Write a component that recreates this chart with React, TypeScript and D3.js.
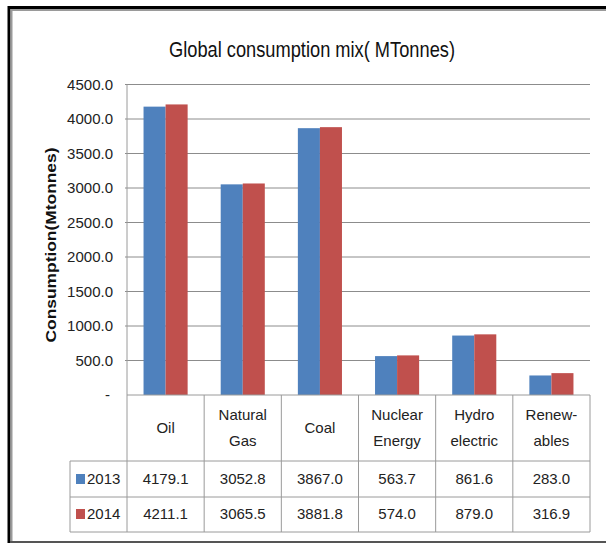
import React from 'react';
import * as d3 from 'd3';

const categories = ['Oil', 'Natural Gas', 'Coal', 'Nuclear Energy', 'Hydro electric', 'Renewables'];
const categoryLines = [['Oil'], ['Natural', 'Gas'], ['Coal'], ['Nuclear', 'Energy'], ['Hydro', 'electric'], ['Renew-', 'ables']];
const years = ['2013', '2014'];
const values2013 = [4179.1, 3052.8, 3867.0, 563.7, 861.6, 283.0];
const values2014 = [4211.1, 3065.5, 3881.8, 574.0, 879.0, 316.9];
const yTicks = [0, 500, 1000, 1500, 2000, 2500, 3000, 3500, 4000, 4500];

const W = 606;
const H = 543;
const colors = ['#4F81BD', '#C0504D'];
const font = '"Liberation Sans", Arial, sans-serif';

export default function App() {
  const series = [values2013, values2014];

  const left = 127, right = 590, top = 84.5, bottom = 395;
  const x = d3.scaleBand().domain(categories).range([left, right]);
  const xi = d3.scaleBand().domain(years).range([0, x.bandwidth()]).paddingOuter(0.75);
  const y = d3.scaleLinear().domain([0, 4500]).range([bottom, top]);

  // table rows
  const rowCat = 461, row1 = 497, row2 = 532, legendLeft = 70;
  const fmt = d3.format('.1f');

  return (
    <svg width={W} height={H} style={{ position: 'absolute', left: 0, top: 0, background: '#fff' }}>
      {/* frame */}
      <line x1={8} x2={W} y1={7.5} y2={7.5} stroke="#000" strokeWidth={3} />
      <line x1={11} x2={W} y1={10} y2={10} stroke="#9a9a9a" strokeWidth={2} />
      <line x1={9} x2={9} y1={6} y2={H} stroke="#000" strokeWidth={3} />
      <line x1={11.5} x2={11.5} y1={9} y2={H} stroke="#9a9a9a" strokeWidth={2} />
      <line x1={10} x2={W} y1={542} y2={542} stroke="#555" strokeWidth={2} />

      <text x={312} y={57} textAnchor="middle" fontFamily={font} fontSize={22} fill="#111"
        textLength={286} lengthAdjust="spacingAndGlyphs">Global consumption mix( MTonnes)</text>

      <text transform="translate(56,245) rotate(-90)" textAnchor="middle" fontFamily={font} fontSize={15}
        fontWeight="bold" fill="#111" textLength={195} lengthAdjust="spacingAndGlyphs">Consumption(Mtonnes)</text>

      {/* gridlines */}
      {yTicks.filter(t => t > 0).map(t => (
        <line key={t} x1={left - 2} x2={right} y1={y(t)} y2={y(t)} stroke="#8c8c8c" strokeWidth={1} />
      ))}
      {yTicks.map(t => (
        <text key={t} x={t === 0 ? 110 : 113} y={y(t)} dy="0.35em" textAnchor="end" fontFamily={font}
          fontSize={15} fill="#222">{t === 0 ? '-' : fmt(t)}</text>
      ))}

      {/* bars */}
      {categories.map((c, i) => (
        <g key={c} transform={`translate(${x(c)},0)`}>
          {series.map((s, j) => (
            <rect key={j} x={xi(years[j])} y={y(s[i])} width={xi.bandwidth()} height={bottom - y(s[i])}
              fill={colors[j]} />
          ))}
        </g>
      ))}

      {/* axis line */}
      <line x1={left} x2={left} y1={top} y2={row2} stroke="#9a9a9a" strokeWidth={1} />

      {/* data table */}
      <line x1={left} x2={right} y1={bottom} y2={bottom} stroke="#9a9a9a" />
      {[rowCat, row1, row2].map(r => (
        <line key={r} x1={legendLeft} x2={right} y1={r} y2={r} stroke="#9a9a9a" />
      ))}
      <line x1={legendLeft} x2={legendLeft} y1={rowCat} y2={row2} stroke="#9a9a9a" />
      {categories.map(c => (
        <line key={c} x1={(x(c) as number) + x.bandwidth()} x2={(x(c) as number) + x.bandwidth()}
          y1={bottom} y2={row2} stroke="#9a9a9a" />
      ))}

      {categories.map((c, i) => {
        const cx = (x(c) as number) + x.bandwidth() / 2;
        const lines = categoryLines[i];
        const ys = lines.length === 1 ? [428] : [415, 441];
        return (
          <g key={c} fontFamily={font} fontSize={15} fill="#222" textAnchor="middle">
            {lines.map((l, k) => (
              <text key={k} x={cx} y={ys[k]} dy="0.35em">{l}</text>
            ))}
            {series.map((s, j) => (
              <text key={j} x={cx} y={j === 0 ? 479 : 514} dy="0.35em">{fmt(s[i])}</text>
            ))}
          </g>
        );
      })}

      {years.map((yr, j) => {
        const cy = j === 0 ? 479 : 514;
        return (
          <g key={yr}>
            <rect x={76} y={cy - 5} width={9} height={10} fill={colors[j]} />
            <text x={87} y={cy} dy="0.35em" fontFamily={font} fontSize={15} fill="#222">{yr}</text>
          </g>
        );
      })}
    </svg>
  );
}
